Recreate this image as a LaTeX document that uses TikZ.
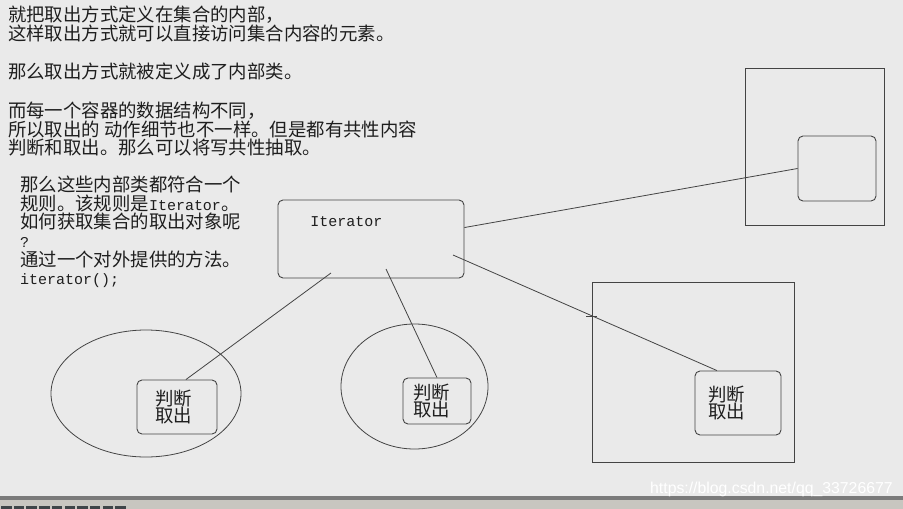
\documentclass[tikz,border=0pt]{standalone}
\usepackage{fontspec}
\setmainfont{Noto Sans CJK SC}
\setsansfont{Liberation Sans}
\setmonofont{Liberation Mono}
\usetikzlibrary{shapes}
\definecolor{bgc}{HTML}{EAEAEA}
\definecolor{linec}{HTML}{444444}
\definecolor{txtc}{HTML}{1E1E1E}
\definecolor{barc}{HTML}{7B7B7B}
\definecolor{taskc}{HTML}{C8C6C0}
\definecolor{iconc}{HTML}{3E4548}
\newcommand{\ltn}[1]{{\ttfamily\fontsize{15pt}{15pt}\selectfont #1}}
\tikzset{x=1pt, y=-1pt,
    every node/.style={inner sep=0pt, text=txtc},
    para/.style={anchor=north west, align=left, font=\fontsize{18.4pt}{18.5pt}\selectfont},
    para2/.style={para, font=\fontsize{18.4pt}{18.6pt}\selectfont},
    box/.style={draw=linec, line width=0.9pt, rounded corners=5pt},
    inbox/.style={box, align=left, font=\fontsize{18.4pt}{17.5pt}\selectfont},
    holder/.style={draw=linec, line width=0.9pt},
    wire/.style={draw=linec, line width=0.8pt},
    wmark/.style={anchor=base west, text=white, font=\sffamily\fontsize{15.8pt}{15.8pt}\selectfont}}

\begin{document}
\begin{tikzpicture}
        \useasboundingbox (0,0) rectangle (903,509);
        \fill[bgc] (0,0) rectangle (903,509);
        \fill[barc] (0,496) rectangle (903,500);
        \fill[taskc] (0,500) rectangle (903,509);
        \foreach \i in {0,...,9}
            \fill[iconc] (\i*12.7+1,505.5) rectangle ++(10.5,3.5);

        \node[para] (intro) at (8,6) {就把取出方式定义在集合的内部，\\这样取出方式就可以直接访问集合内容的元素。};
        \node[para] (inner) at (8,63) {那么取出方式就被定义成了内部类。};
        \node[para] (common) at (8,102) {而每一个容器的数据结构不同，\\所以取出的 动作细节也不一样。但是都有共性内容\\判断和取出。那么可以将写共性抽取。};
        \node[para2] (rule) at (20,176) {那么这些内部类都符合一个\\规则。该规则是\ltn{Iterator}。\\如何获取集合的取出对象呢\\\ltn{?}\\通过一个对外提供的方法。\\\ltn{iterator();}};

        \node[box, minimum width=186, minimum height=78] (iter) at (371,239) {};
        \node (itername) at (346.5,221.5) {\ltn{Iterator}};

        \node[ellipse, holder, line width=0.8pt, minimum width=190, minimum height=127] (elL) at (146,393.5) {};
        \node[ellipse, holder, line width=0.8pt, minimum width=147, minimum height=125] (elM) at (414.5,386.5) {};
        \node[holder, minimum width=202, minimum height=180] (sqR) at (693,372) {};
        \node[holder, minimum width=139, minimum height=157] (sqTR) at (814.5,146.5) {};

        \node[inbox, text width=44, inner xsep=18, minimum height=54] (inL) at (177,407) {判断\\取出};
        \node[inbox, text width=48, inner xsep=10, minimum height=46] (inM) at (437,401) {判断\\取出};
        \node[inbox, text width=60, inner xsep=13, minimum height=64] (inR) at (738,403) {判断\\取出};
        \node[box, minimum width=78, minimum height=65] (inTR) at (837,168.5) {};

        \coordinate (s1) at (331,273);
        \coordinate (s2) at (386,269);
        \coordinate (s3) at (453,255);
        \coordinate (hit) at (592,316.5);
        \draw[wire] (iter.7) edge (inTR.west)
        (s3) edge (inR.123)
        (s2) edge (inM.north)
        (s1) edge (inL.72);
        \draw[wire] ([xshift=-6pt]hit) -- ([xshift=5pt]hit) ([yshift=-5pt]hit) -- ([yshift=5pt]hit);

        \node[wmark] (url) at (650,493) {https://blog.csdn.net/qq\_33726677};
    \end{tikzpicture}
\end{document}
